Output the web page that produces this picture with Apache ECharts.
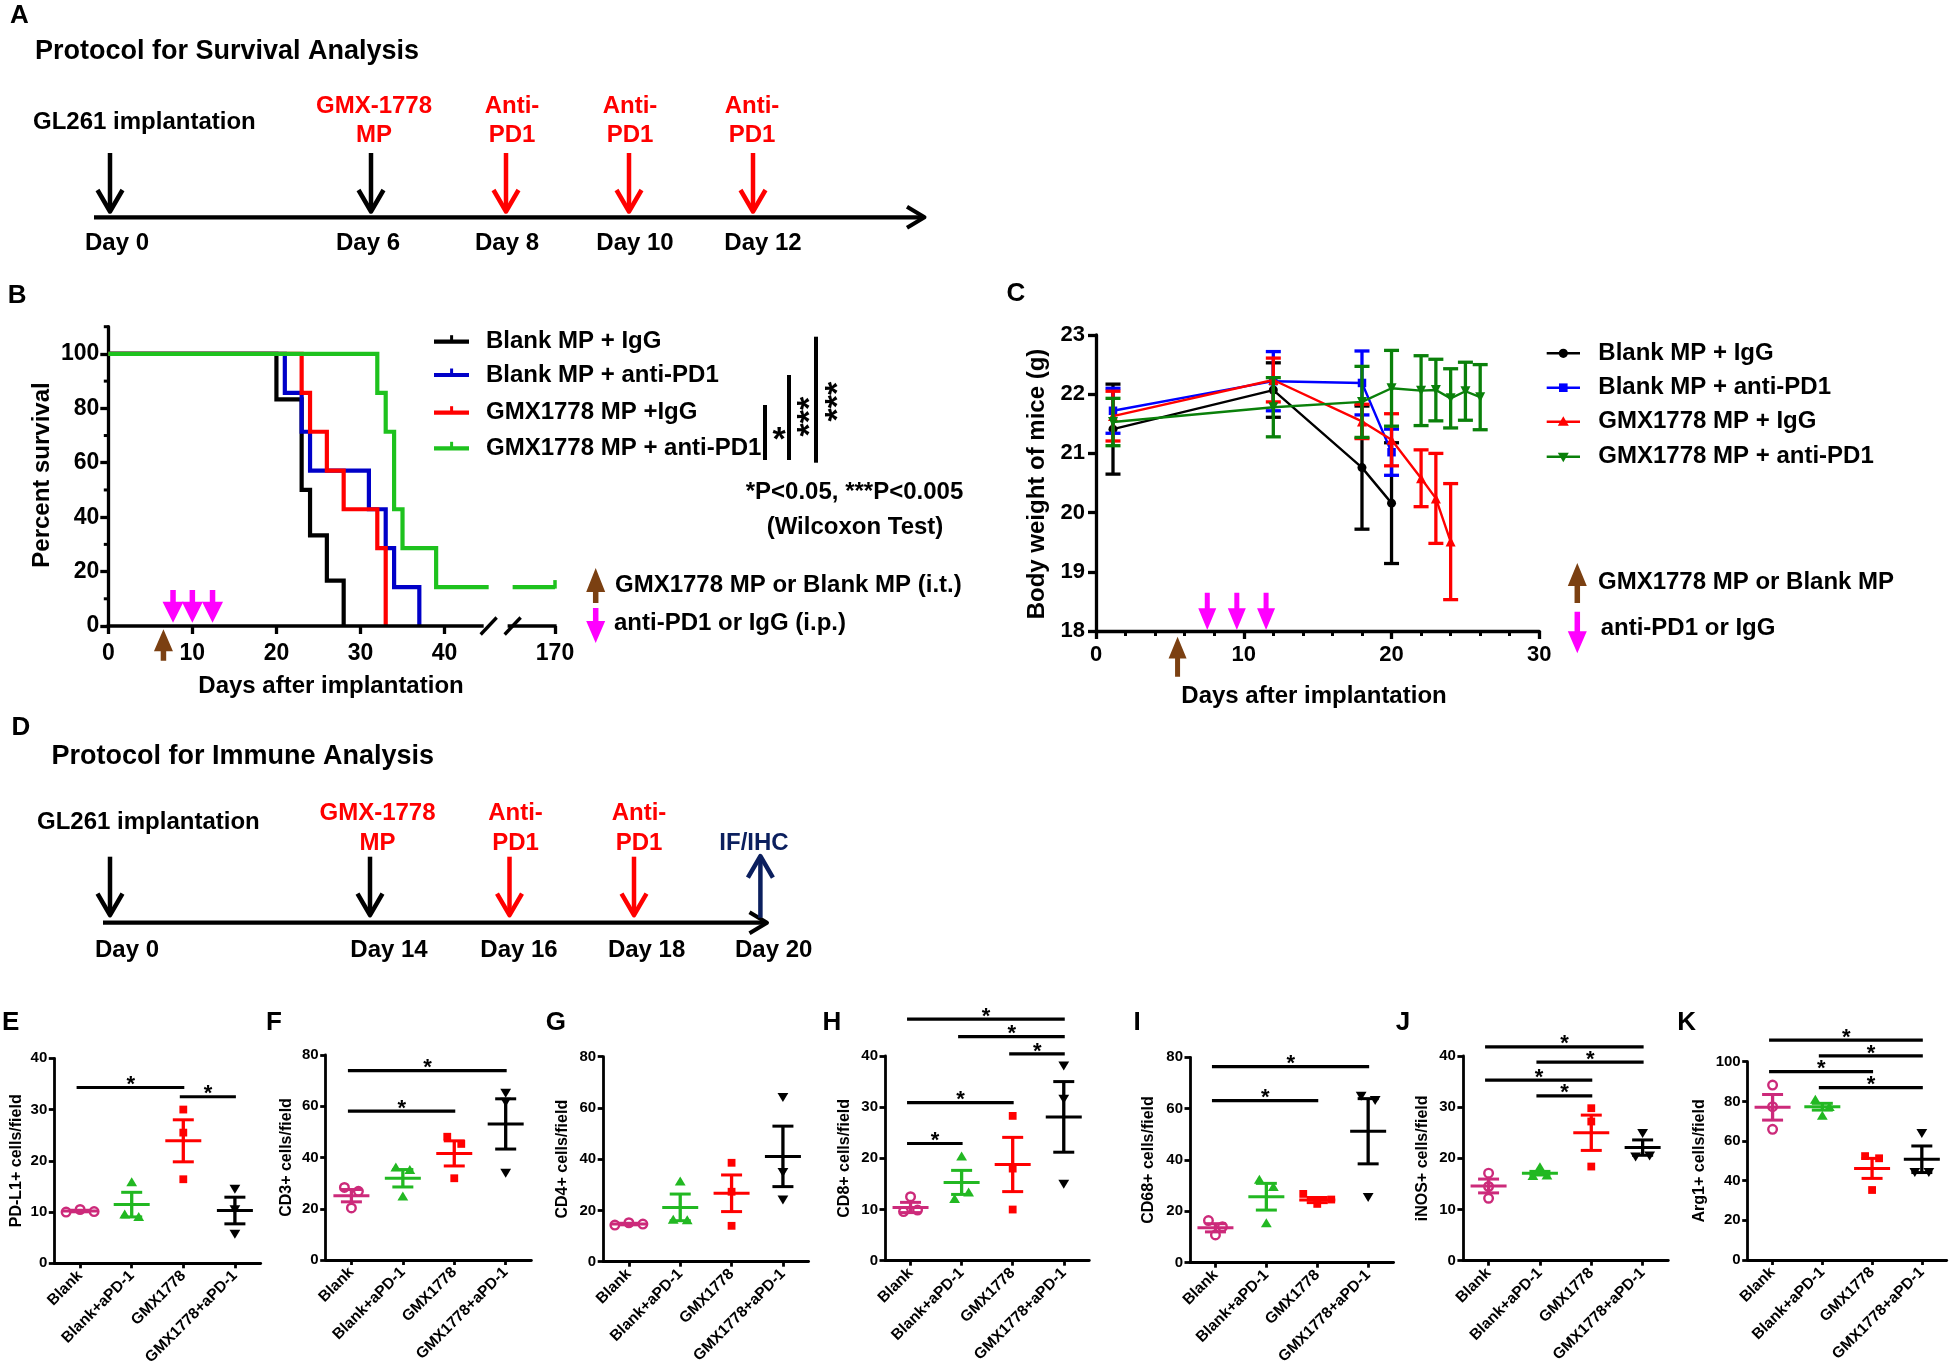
<!DOCTYPE html>
<html>
<head>
<meta charset="utf-8">
<title>GMX1778 MP and anti-PD1</title>
<script src="https://cdn.jsdelivr.net/npm/echarts@6.0.0/dist/echarts.min.js"></script>
<style>
html,body{margin:0;padding:0;background:#ffffff;}
#chart{width:1950px;height:1369px;}
</style>
</head>
<body>
<div id="chart"></div>
<script>
// ======================= DATA =======================
// Panel A / D : treatment protocols
const protoA_title = 'Protocol for Survival Analysis';
const protoA_days = ['Day 0', 'Day 6', 'Day 8', 'Day 10', 'Day 12'];
const protoA_events = [['GL261 implantation'], ['GMX-1778', 'MP'], ['Anti-', 'PD1'], ['Anti-', 'PD1'], ['Anti-', 'PD1']];
const protoD_title = 'Protocol for Immune Analysis';
const protoD_days = ['Day 0', 'Day 14', 'Day 16', 'Day 18', 'Day 20'];
const protoD_events = [['GL261 implantation'], ['GMX-1778', 'MP'], ['Anti-', 'PD1'], ['Anti-', 'PD1'], ['IF/IHC']];

// Panel B : Kaplan-Meier survival (day of each step, percent surviving after it)
const bDayTicks = [0, 10, 20, 30, 40, 170];
const bPercentTicks = [0, 20, 40, 60, 80, 100];
const bMinorTicks = [10, 30, 50, 70, 90, 110];
const survNames = ['Blank MP + IgG', 'Blank MP + anti-PD1', 'GMX1778 MP +IgG', 'GMX1778 MP + anti-PD1'];
const survBlankIgG_t = [0, 20, 23, 24, 26, 28];
const survBlankIgG_s = [100, 83.3, 50, 33.3, 16.7, 0];
const survBlankPD1_t = [0, 21, 23, 24, 31, 33, 34, 37];
const survBlankPD1_s = [100, 85.7, 71.4, 57.1, 42.9, 28.6, 14.3, 0];
const survGmxIgG_t = [0, 23, 24, 26, 28, 32, 33];
const survGmxIgG_s = [100, 85.7, 71.4, 57.1, 42.9, 28.6, 0];
const survGmxPD1_t = [0, 32, 33, 34, 35, 39, 170];
const survGmxPD1_s = [100, 85.7, 71.4, 42.9, 28.6, 14.3, 14.3];
const bInjectDays = [6.56];            // GMX1778 MP or Blank MP (i.t.)
const bTreatDays = [7.7, 10.0, 12.4];  // anti-PD1 or IgG (i.p.)

// Panel C : body weight (mean +/- SEM)
const cDayTicks = [0, 10, 20, 30];
const weightNames = ['Blank MP + IgG', 'Blank MP + anti-PD1', 'GMX1778 MP + IgG', 'GMX1778 MP + anti-PD1'];
const wBlankIgG_day = [1.15, 12, 18, 20];
const wBlankIgG_mean = [21.41, 22.07, 20.76, 20.16];
const wBlankIgG_err = [0.76, 0.46, 1.04, 1.02];
const wBlankPD1_day = [1.15, 12, 18, 20];
const wBlankPD1_mean = [21.72, 22.22, 22.19, 21.02];
const wBlankPD1_err = [0.38, 0.5, 0.54, 0.39];
const wGmxIgG_day = [1.15, 12, 18, 20, 22, 23, 24];
const wGmxIgG_mean = [21.63, 22.24, 21.54, 21.23, 20.58, 20.24, 19.51];
const wGmxIgG_err = [0.42, 0.37, 0.29, 0.44, 0.48, 0.76, 0.98];
const wGmxPD1_day = [1.15, 12, 18, 20, 22, 23, 24, 25, 26];
const wGmxPD1_mean = [21.53, 21.78, 21.87, 22.1, 22.06, 22.07, 21.93, 22.05, 21.95];
const wGmxPD1_err = [0.4, 0.5, 0.6, 0.64, 0.59, 0.52, 0.5, 0.49, 0.55];
const cInjectDays = [5.52];
const cTreatDays = [7.53, 9.53, 11.51];

// Panels E-K : cells per field (individual points, mean, SEM, significance bars [from, to, y])
const groupCats = ['Blank', 'Blank+aPD-1', 'GMX1778', 'GMX1778+aPD-1'];
const pdl1Points = [[10.0, 10.5, 10.1], [15.8, 9.5, 9.0], [30.0, 25.5, 16.4], [14.6, 10.6, 5.8]];
const pdl1Mean = [10.2, 11.45, 23.9, 10.3];
const pdl1Sem = [0.15, 2.4, 4.1, 2.6];
const pdl1Sig = [[0, 2, 34.3], [2, 3, 32.5]];

const cd3Points = [[28.3, 26.8, 20.3], [36.0, 35.0, 24.7], [48.1, 45.3, 31.9], [65.3, 61.8, 34.1]];
const cd3Mean = [25.1, 31.9, 41.6, 53.1];
const cd3Sem = [2.4, 3.4, 4.9, 9.8];
const cd3Sig = [[0, 2, 58.1], [0, 3, 73.9]];

const cd4Points = [[14.3, 15.2, 14.7], [31.2, 16.3, 16.1], [38.6, 27.3, 14.0], [64.4, 35.1, 24.4]];
const cd4Mean = [14.7, 21.2, 26.7, 41.1];
const cd4Sem = [0.3, 5.2, 7.15, 11.8];
const cd4Sig = [];

const cd8Points = [[12.5, 9.6, 9.9], [20.3, 12.0, 13.3], [28.3, 18.0, 10.0], [38.2, 31.7, 15.1]];
const cd8Mean = [10.4, 15.3, 18.8, 28.1];
const cd8Sem = [1.0, 2.35, 5.3, 6.9];
const cd8Sig = [[0, 1, 22.9], [0, 2, 30.9], [2, 3, 40.4], [1, 3, 43.8], [0, 3, 47.2]];

const cd68Points = [[16.4, 14.0, 10.8], [32.2, 29.4, 15.3], [26.8, 22.9, 24.6], [65.1, 63.4, 25.7]];
const cd68Mean = [13.6, 25.7, 24.4, 51.2];
const cd68Sem = [1.6, 5.2, 1.0, 12.7];
const cd68Sig = [[0, 2, 63.1], [0, 3, 76.4]];

const inosPoints = [[17.1, 14.5, 12.2], [18.2, 16.5, 16.6], [29.8, 27.2, 18.4], [25.0, 20.4, 20.6]];
const inosMean = [14.6, 17.1, 25.0, 22.1];
const inosSem = [1.35, 0.35, 3.45, 1.5];
const inosSig = [[0, 3, 41.8], [1, 3, 38.8], [0, 2, 35.3], [1, 2, 32.2]];

const arg1Points = [[88.2, 77.3, 65.9], [80.7, 77.0, 72.6], [52.4, 51.3, 35.3], [64.2, 44.5, 44.5]];
const arg1Mean = [77.0, 77.3, 46.2, 50.8];
const arg1Sem = [6.45, 1.7, 5.05, 6.7];
const arg1Sig = [[0, 3, 110.9], [1, 3, 102.9], [0, 2, 95.0], [1, 3, 86.9]];

// ======================= STYLE / LAYOUT =======================
const FONT = "'Liberation Sans', Arial, Helvetica, sans-serif";
const fnt = s => 'bold ' + s + 'px ' + FONT;
const RED = '#ff0000', BROWN = '#7b4012', MAGENTA = '#ff00ff', NAVY = '#0b1f5e';
const survColors = ['#000000', '#0000c8', '#ff0000', '#1ec21e'];
const weightColors = ['#000000', '#0000ff', '#ff0000', '#0a800a'];
const weightSymbols = ['circle', 'rect', 'triangle', 'triangle'];
const weightSymbolRotate = [0, 0, 0, 180];
const weightSymbolSize = [9, 8.5, 10, 10];
const groupColors = ['#cc2a7a', '#22b822', '#ff0000', '#000000'];

// broken x axis of panel B
const B_AXIS_MAX = 53.14, B_LAST_DAY = 170, B_BREAK_L = 45.25, B_BREAK_R = 48.1;
const bx = d => (d > 100 ? B_AXIS_MAX - (B_LAST_DAY - d) : d);

const layoutA = {
  titleX: 35, titleY: 52, glX: 33, glY: 122,
  arrowX: [110, 371, 506, 629, 753], arrowTop: 153, arrowTip: 213,
  arrowColor: ['#000', '#000', RED, RED, RED], up: [false, false, false, false, false],
  textColor: ['#000', RED, RED, RED, RED],
  lineY: 217.3, lineX1: 94, lineX2: 926,
  dayX: [117, 368, 507, 635, 763], dayY: 243,
  evX: [0, 374, 512, 630, 752], evY1: 106, evY2: 135
};
const layoutD = {
  titleX: 51.5, titleY: 757, glX: 37, glY: 822,
  arrowX: [110, 370, 509.5, 634, 760.4], arrowTop: 856.7, arrowTip: 916.7,
  arrowColor: ['#000', '#000', RED, RED, NAVY], up: [false, false, false, false, true],
  textColor: ['#000', RED, RED, RED, NAVY],
  lineY: 922.7, lineX1: 103, lineX2: 768.5,
  dayX: [127, 389, 519, 646.6, 773.7], dayY: 950,
  evX: [0, 377.5, 515.5, 639, 754], evY1: 813, evY2: 843
};
const gridB = { left: 108.3, top: 326.7, width: 446.7, height: 299.3 };
const gridC = { left: 1096, top: 335, width: 443.3, height: 296 };
const smallLayout = [
  { left: 54.3, top: 1058.3, width: 206.4, height: 205, letterX: 10.7, titleX: 16.2 },
  { left: 325.7, top: 1055, width: 205.7, height: 205, letterX: 274, titleX: 286.3 },
  { left: 603.2, top: 1056.7, width: 205.4, height: 205, letterX: 555.8, titleX: 562.6 },
  { left: 885, top: 1056, width: 204.3, height: 204.7, letterX: 832, titleX: 844.9 },
  { left: 1190, top: 1057.3, width: 203.6, height: 205.4, letterX: 1137, titleX: 1148.8 },
  { left: 1462.9, top: 1056, width: 205.4, height: 204.7, letterX: 1403, titleX: 1422.3 },
  { left: 1747.7, top: 1061.7, width: 199, height: 198.3, letterX: 1686.7, titleX: 1700 }
];

const panels = [
  { letter: 'E', title: 'PD-L1+ cells/field', max: 40, interval: 10, points: pdl1Points, mean: pdl1Mean, sem: pdl1Sem, sig: pdl1Sig },
  { letter: 'F', title: 'CD3+ cells/field', max: 80, interval: 20, points: cd3Points, mean: cd3Mean, sem: cd3Sem, sig: cd3Sig },
  { letter: 'G', title: 'CD4+ cells/field', max: 80, interval: 20, points: cd4Points, mean: cd4Mean, sem: cd4Sem, sig: cd4Sig },
  { letter: 'H', title: 'CD8+ cells/field', max: 40, interval: 10, points: cd8Points, mean: cd8Mean, sem: cd8Sem, sig: cd8Sig },
  { letter: 'I', title: 'CD68+ cells/field', max: 80, interval: 20, points: cd68Points, mean: cd68Mean, sem: cd68Sem, sig: cd68Sig },
  { letter: 'J', title: 'iNOS+ cells/field', max: 40, interval: 10, points: inosPoints, mean: inosMean, sem: inosSem, sig: inosSig },
  { letter: 'K', title: 'Arg1+ cells/field', max: 100, interval: 20, points: arg1Points, mean: arg1Mean, sem: arg1Sem, sig: arg1Sig }
];

// ======================= HELPERS =======================
const G = [];
function txt(text, x, y, size, o) {
  o = o || {};
  G.push({ type: 'text', x: x, y: y, rotation: o.rot || 0, silent: true, z: 50,
    style: { text: text, fill: o.color || '#000', font: fnt(size),
      textAlign: o.align || 'left', align: o.align || 'left',
      textVerticalAlign: 'middle', verticalAlign: 'middle' } });
}
function seg(x1, y1, x2, y2, color, w) {
  G.push({ type: 'line', silent: true, z: 50, shape: { x1: x1, y1: y1, x2: x2, y2: y2 }, style: { stroke: color, lineWidth: w } });
}
function poly(points, color, w) {
  G.push({ type: 'polyline', silent: true, z: 50, shape: { points: points }, style: { stroke: color, lineWidth: w, fill: null, lineJoin: 'round' } });
}
function arrowPts(x, yTail, yTip, headLen, headHalf, shaftW) {
  const d = yTip > yTail ? 1 : -1, yh = yTip - d * headLen, s = shaftW / 2;
  return [[x - s, yTail], [x + s, yTail], [x + s, yh], [x + headHalf, yh], [x, yTip], [x - headHalf, yh], [x - s, yh]];
}
function arrowEl(x, yTail, yTip, headLen, headHalf, shaftW, color) {
  return { type: 'polygon', silent: true, z: 50, shape: { points: arrowPts(x, yTail, yTip, headLen, headHalf, shaftW) }, style: { fill: color } };
}
function protoArrow(x, yTail, yTip, color) {
  const d = yTip > yTail ? 1 : -1;
  seg(x, yTail, x, yTip - d * 3, color, 4.5);
  poly([[x - 12.5, yTip - d * 23], [x, yTip - d * 1.5], [x + 12.5, yTip - d * 23]], color, 4.5);
}
function drawProtocol(L, title, days, events) {
  txt(title, L.titleX, L.titleY, 27);
  txt(events[0][0], L.glX, L.glY, 24);
  seg(L.lineX1, L.lineY, L.lineX2 - 3, L.lineY, '#000', 4.3);
  poly([[L.lineX2 - 19, L.lineY - 10.5], [L.lineX2 - 1.5, L.lineY], [L.lineX2 - 19, L.lineY + 10.5]], '#000', 4);
  for (let i = 0; i < days.length; i++) {
    if (L.up[i]) protoArrow(L.arrowX[i], L.arrowTip + 1, L.arrowTop - 2, L.arrowColor[i]);
    else protoArrow(L.arrowX[i], L.arrowTop, L.arrowTip, L.arrowColor[i]);
    txt(days[i], L.dayX[i], L.dayY, 24, { align: 'center' });
    if (i > 0) {
      const ev = events[i];
      if (ev.length === 2) {
        txt(ev[0], L.evX[i], L.evY1, 24, { align: 'center', color: L.textColor[i] });
        txt(ev[1], L.evX[i], L.evY2, 24, { align: 'center', color: L.textColor[i] });
      } else {
        txt(ev[0], L.evX[i], L.evY2, 24, { align: 'center', color: L.textColor[i] });
      }
    }
  }
}
function jitter(ys, thr, step) {
  const order = ys.map((y, i) => i).sort((a, b) => ys[a] - ys[b]);
  const clusters = []; let cur = [order[0]];
  for (let k = 1; k < order.length; k++) {
    if (ys[order[k]] - ys[order[k - 1]] < thr) cur.push(order[k]);
    else { clusters.push(cur); cur = [order[k]]; }
  }
  clusters.push(cur);
  const off = ys.map(() => 0);
  clusters.forEach(c => { c.sort((a, b) => a - b); c.forEach((idx, j) => { off[idx] = (j - (c.length - 1) / 2) * step; }); });
  return off;
}
function markerShape(kind, x, y, color) {
  if (kind === 0) return { type: 'circle', shape: { cx: x, cy: y, r: 4.3 }, style: { fill: 'rgba(255,255,255,0)', stroke: color, lineWidth: 2.4 } };
  if (kind === 1) return { type: 'polygon', shape: { points: [[x, y - 5.2], [x + 5.4, y + 3.8], [x - 5.4, y + 3.8]] }, style: { fill: color } };
  if (kind === 2) return { type: 'rect', shape: { x: x - 3.9, y: y - 3.9, width: 7.8, height: 7.8 }, style: { fill: color } };
  return { type: 'polygon', shape: { points: [[x, y + 5.2], [x + 5.4, y - 3.8], [x - 5.4, y - 3.8]] }, style: { fill: color } };
}
function cLine(x1, y1, x2, y2, c, w) {
  return { type: 'line', shape: { x1: x1, y1: y1, x2: x2, y2: y2 }, style: { stroke: c, lineWidth: w } };
}

// ======================= GRAPHIC TEXT / DIAGRAMS =======================
txt('A', 19.5, 16, 26, { align: 'center' });
txt('B', 17.2, 296, 26, { align: 'center' });
txt('C', 1016, 294, 26, { align: 'center' });
txt('D', 21, 727.5, 26, { align: 'center' });
drawProtocol(layoutA, protoA_title, protoA_days, protoA_events);
drawProtocol(layoutD, protoD_title, protoD_days, protoD_events);

// Panel B legend, stats and axis titles
const bLegY = [341.7, 375, 412.7, 448.3];
survNames.forEach((n, i) => {
  seg(434, bLegY[i], 469, bLegY[i], survColors[i], 4.2);
  seg(451.6, bLegY[i], 451.6, bLegY[i] - 6.5, survColors[i], 3);
  txt(n, 486, bLegY[i], 24);
});
seg(765, 405, 765, 460, '#000', 4);
seg(789, 375, 789, 460, '#000', 4);
seg(816, 336.7, 816, 462.7, '#000', 4);
txt('*', 779, 441, 34, { align: 'center' });
txt('***', 811, 416.7, 34, { align: 'center', rot: Math.PI / 2 });
txt('***', 839, 401.7, 34, { align: 'center', rot: Math.PI / 2 });
txt('*P<0.05, ***P<0.005', 854.5, 492, 24, { align: 'center' });
txt('(Wilcoxon Test)', 855, 527, 24, { align: 'center' });
G.push(arrowEl(595.7, 603, 568, 24, 9.5, 5.5, BROWN));
txt('GMX1778 MP or Blank MP (i.t.)', 615, 585, 24);
G.push(arrowEl(595.7, 608, 643, 22, 9.5, 5.5, MAGENTA));
txt('anti-PD1 or IgG (i.p.)', 614, 623, 24);
txt('Percent survival', 42, 475, 24, { align: 'center', rot: Math.PI / 2 });
txt('Days after implantation', 331, 686.7, 24, { align: 'center' });

// Panel C legend and axis titles
const cLegY = [353.3, 387.7, 421.7, 456.7];
weightNames.forEach((n, i) => {
  seg(1546.7, cLegY[i], 1580, cLegY[i], weightColors[i], 2.6);
  const mx = 1563.3, my = cLegY[i], c = weightColors[i];
  let m;
  if (i === 0) m = { type: 'circle', shape: { cx: mx, cy: my, r: 4.6 }, style: { fill: c } };
  else if (i === 1) m = { type: 'rect', shape: { x: mx - 4.3, y: my - 4.3, width: 8.6, height: 8.6 }, style: { fill: c } };
  else if (i === 2) m = { type: 'polygon', shape: { points: [[mx, my - 5.5], [mx + 5.5, my + 4], [mx - 5.5, my + 4]] }, style: { fill: c } };
  else m = { type: 'polygon', shape: { points: [[mx, my + 5.5], [mx + 5.5, my - 4], [mx - 5.5, my - 4]] }, style: { fill: c } };
  m.silent = true; m.z = 51; G.push(m);
  txt(n, 1598.3, cLegY[i], 24);
});
G.push(arrowEl(1577.3, 603, 563, 23, 9.5, 5.5, BROWN));
txt('GMX1778 MP or Blank MP', 1598, 582, 24);
G.push(arrowEl(1577.3, 611.7, 653.3, 22, 9.5, 5.5, MAGENTA));
txt('anti-PD1 or IgG', 1600.7, 628, 24);
txt('Body weight of mice (g)', 1037.6, 484, 24, { align: 'center', rot: Math.PI / 2 });
txt('Days after implantation', 1314, 696.7, 24, { align: 'center' });

// Panels E-K letters and titles
panels.forEach((p, k) => {
  const L = smallLayout[k];
  txt(p.letter, L.letterX, 1023, 26, { align: 'center' });
  txt(p.title, L.titleX, L.top + L.height / 2, 16, { align: 'center', rot: Math.PI / 2 });
});

// ======================= AXES =======================
const axisLbl = (size, margin) => ({ fontFamily: FONT, fontWeight: 'bold', fontSize: size, color: '#000', margin: margin });
const grids = [gridB, gridC].concat(smallLayout.map(L => ({ left: L.left, top: L.top, width: L.width, height: L.height })));
const bTickPos = bDayTicks.map(bx);
const xAxes = [
  { gridIndex: 0, type: 'value', min: 0, max: B_AXIS_MAX,
    axisLine: { show: false },
    axisTick: { show: true, length: 8, customValues: bTickPos, lineStyle: { color: '#000', width: 3.3 } },
    axisLabel: Object.assign(axisLbl(23, 16), { customValues: bTickPos,
      formatter: v => { for (let i = 0; i < bTickPos.length; i++) if (Math.abs(bTickPos[i] - v) < 1e-6) return String(bDayTicks[i]); return ''; } }),
    splitLine: { show: false } },
  { gridIndex: 1, type: 'value', min: cDayTicks[0], max: cDayTicks[cDayTicks.length - 1], interval: 10,
    axisLine: { show: true, lineStyle: { color: '#000', width: 3.3 } },
    axisTick: { show: true, length: 8, lineStyle: { color: '#000', width: 3.3 } },
    minorTick: { show: true, splitNumber: 5, length: 5, lineStyle: { color: '#000', width: 3 } },
    axisLabel: axisLbl(22, 13), splitLine: { show: false }, minorSplitLine: { show: false } }
];
const yAxes = [
  { gridIndex: 0, type: 'value', min: 0, max: 110,
    axisLine: { show: true, lineStyle: { color: '#000', width: 3.3 } },
    axisTick: { show: true, length: 8, customValues: bPercentTicks, lineStyle: { color: '#000', width: 3.3 } },
    axisLabel: Object.assign(axisLbl(23, 9), { customValues: bPercentTicks }),
    splitLine: { show: false } },
  { gridIndex: 1, type: 'value', min: 18, max: 23, interval: 1,
    axisLine: { show: true, lineStyle: { color: '#000', width: 3.3 } },
    axisTick: { show: true, length: 8, lineStyle: { color: '#000', width: 3.3 } },
    axisLabel: axisLbl(22, 11), splitLine: { show: false } }
];
panels.forEach((p, k) => {
  xAxes.push({ gridIndex: 2 + k, type: 'category', data: groupCats, boundaryGap: true,
    axisLine: { show: true, lineStyle: { color: '#000', width: 2.8 } },
    axisTick: { show: true, alignWithLabel: true, length: 5, lineStyle: { color: '#000', width: 2.8 } },
    axisLabel: Object.assign(axisLbl(15.5, 10), { rotate: 45, interval: 0 }),
    splitLine: { show: false } });
  yAxes.push({ gridIndex: 2 + k, type: 'value', min: 0, max: p.max, interval: p.interval,
    axisLine: { show: true, lineStyle: { color: '#000', width: 2.8 } },
    axisTick: { show: true, length: 5.5, lineStyle: { color: '#000', width: 2.8 } },
    axisLabel: axisLbl(15, 7), splitLine: { show: false } });
});

// ======================= SERIES =======================
const series = [];
// --- Panel B survival curves ---
const survT = [survBlankIgG_t, survBlankPD1_t, survGmxIgG_t, survGmxPD1_t];
const survS = [survBlankIgG_s, survBlankPD1_s, survGmxIgG_s, survGmxPD1_s];
survT.forEach((t, i) => {
  const d = [];
  let last = null;
  for (let j = 0; j < t.length; j++) if (t[j] <= 100) { d.push([bx(t[j]), survS[i][j]]); last = survS[i][j]; }
  const reachesEnd = t[t.length - 1] > 100;
  if (reachesEnd) d.push([B_BREAK_L, last]);
  series.push({ type: 'line', name: survNames[i], xAxisIndex: 0, yAxisIndex: 0, step: 'end', symbol: 'none',
    lineStyle: { color: survColors[i], width: 4.2, join: 'miter' }, data: d, z: 3 + i, silent: true });
  if (reachesEnd) {
    const sEnd = survS[i][t.length - 1];
    series.push({ type: 'line', xAxisIndex: 0, yAxisIndex: 0, symbol: 'none',
      lineStyle: { color: survColors[i], width: 4.2 }, data: [[B_BREAK_R, sEnd], [bx(t[t.length - 1]), sEnd]], z: 3 + i, silent: true });
  }
});
// Panel B: broken x axis line, minor y ticks, censor mark, treatment arrows
series.push({ type: 'custom', xAxisIndex: 0, yAxisIndex: 0, clip: false, silent: true, z: 10, encode: { x: 0, y: 1 }, data: [[0, 0]],
  renderItem: (params, api) => {
    const o = api.coord([0, 0]), x0 = o[0], y0 = o[1];
    const xL = api.coord([B_BREAK_L, 0])[0], xR = api.coord([B_BREAK_R, 0])[0], xE = api.coord([B_AXIS_MAX, 0])[0];
    const ch = [];
    ch.push(cLine(x0 - 1.6, y0, xL - 5, y0, '#000', 3.3));
    ch.push(cLine(xR - 5, y0, xE + 1.6, y0, '#000', 3.3));
    ch.push(cLine(xL - 8, y0 + 8.5, xL + 8, y0 - 8.5, '#000', 3.3));
    ch.push(cLine(xR - 8, y0 + 8.5, xR + 8, y0 - 8.5, '#000', 3.3));
    bMinorTicks.forEach(v => { const p = api.coord([0, v]); ch.push(cLine(p[0] - 4.5, p[1], p[0], p[1], '#000', 3)); });
    const gs = survGmxPD1_s[survGmxPD1_s.length - 1];
    const cp = api.coord([bx(survGmxPD1_t[survGmxPD1_t.length - 1]), gs]);
    ch.push(cLine(cp[0], cp[1] + 1.5, cp[0], cp[1] - 7, survColors[3], 3.5));
    bTreatDays.forEach(d => { const p = api.coord([d, 0]); ch.push(arrowEl(p[0], p[1] - 36, p[1] - 3.3, 21, 10.5, 5.5, MAGENTA)); });
    bInjectDays.forEach(d => { const p = api.coord([d, 0]); ch.push(arrowEl(p[0], p[1] + 34.7, p[1] + 3.3, 22, 9.5, 5.5, BROWN)); });
    return { type: 'group', children: ch };
  } });

// --- Panel C body weight ---
const wDay = [wBlankIgG_day, wBlankPD1_day, wGmxIgG_day, wGmxPD1_day];
const wMean = [wBlankIgG_mean, wBlankPD1_mean, wGmxIgG_mean, wGmxPD1_mean];
const wErr = [wBlankIgG_err, wBlankPD1_err, wGmxIgG_err, wGmxPD1_err];
wDay.forEach((days, i) => {
  series.push({ type: 'custom', xAxisIndex: 1, yAxisIndex: 1, clip: false, silent: true, z: 2 + i * 2, encode: { x: 0, y: 1 },
    data: days.map((d, j) => [d, wMean[i][j], wErr[i][j]]),
    renderItem: (params, api) => {
      const d = api.value(0), m = api.value(1), e = api.value(2);
      const t = api.coord([d, m + e]), b = api.coord([d, m - e]), c = weightColors[i];
      return { type: 'group', children: [
        cLine(t[0], t[1], b[0], b[1], c, 3.3),
        cLine(t[0] - 7.5, t[1], t[0] + 7.5, t[1], c, 3.3),
        cLine(b[0] - 7.5, b[1], b[0] + 7.5, b[1], c, 3.3)] };
    } });
  series.push({ type: 'line', name: weightNames[i], xAxisIndex: 1, yAxisIndex: 1, silent: true, z: 3 + i * 2,
    symbol: weightSymbols[i], symbolRotate: weightSymbolRotate[i], symbolSize: weightSymbolSize[i], showAllSymbol: true,
    itemStyle: { color: weightColors[i] }, lineStyle: { color: weightColors[i], width: 2.4 },
    data: days.map((d, j) => [d, wMean[i][j]]) });
});
series.push({ type: 'custom', xAxisIndex: 1, yAxisIndex: 1, clip: false, silent: true, z: 20, encode: { x: 0, y: 1 }, data: [[0, 18]],
  renderItem: (params, api) => {
    const ch = [];
    cTreatDays.forEach(d => { const p = api.coord([d, 18]); ch.push(arrowEl(p[0], p[1] - 38.3, p[1] - 1, 21.7, 9, 5, MAGENTA)); });
    cInjectDays.forEach(d => { const p = api.coord([d, 18]); ch.push(arrowEl(p[0], p[1] + 45.7, p[1] + 5.7, 21.7, 9, 5, BROWN)); });
    return { type: 'group', children: ch };
  } });

// --- Panels E-K scatter with mean +/- SEM ---
panels.forEach((p, k) => {
  series.push({ type: 'custom', xAxisIndex: 2 + k, yAxisIndex: 2 + k, clip: false, silent: true, z: 5, encode: { x: 0, y: 1 },
    data: p.mean.map((m, i) => [i, m]),
    renderItem: (params, api) => {
      const i = params.dataIndex, color = groupColors[i];
      const cx = api.coord([i, 0])[0];
      const ys = p.points[i].map(v => api.coord([i, v])[1]);
      const off = jitter(ys, 8, 14);
      const ch = [];
      ys.forEach((y, j) => ch.push(markerShape(i, cx + off[j], y, color)));
      const ym = api.coord([i, p.mean[i]])[1];
      const yl = api.coord([i, p.mean[i] - p.sem[i]])[1];
      const yh = api.coord([i, p.mean[i] + p.sem[i]])[1];
      ch.push(cLine(cx, yh, cx, yl, color, 3.3));
      ch.push(cLine(cx - 10.5, yh, cx + 10.5, yh, color, 3));
      ch.push(cLine(cx - 10.5, yl, cx + 10.5, yl, color, 3));
      ch.push(cLine(cx - 18, ym, cx + 18, ym, color, 3));
      return { type: 'group', children: ch };
    } });
  if (p.sig.length) {
    series.push({ type: 'custom', xAxisIndex: 2 + k, yAxisIndex: 2 + k, clip: false, silent: true, z: 6, encode: { x: 0, y: 1 },
      data: p.sig.map(s => [s[0], s[2], s[1]]),
      renderItem: (params, api) => {
        const s = p.sig[params.dataIndex];
        const p1 = api.coord([s[0], s[2]]), p2 = api.coord([s[1], s[2]]);
        return { type: 'group', children: [
          cLine(p1[0] - 3.5, p1[1], p2[0] + 1, p1[1], '#000', 3.2),
          { type: 'text', x: (p1[0] + p2[0]) / 2 - 1, y: p1[1] - 2.5,
            style: { text: '*', font: fnt(22), fill: '#000', textAlign: 'center', align: 'center', textVerticalAlign: 'middle', verticalAlign: 'middle' } }] };
      } });
  }
});

// ======================= CHART =======================
const chart = echarts.init(document.getElementById('chart'), null, { renderer: 'canvas', width: 1950, height: 1369 });
chart.setOption({
  backgroundColor: '#ffffff',
  animation: false,
  textStyle: { fontFamily: FONT },
  grid: grids,
  xAxis: xAxes,
  yAxis: yAxes,
  series: series,
  graphic: { elements: G }
});
</script>
</body>
</html>
